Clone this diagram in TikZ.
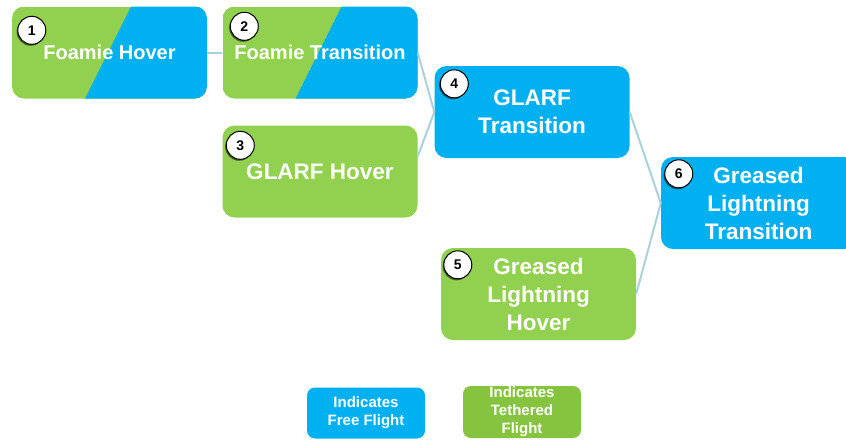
\documentclass[tikz,border=0pt]{standalone}
\usepackage{fontspec}
\setmainfont{Liberation Sans}
\usetikzlibrary{shadows}
\definecolor{freeblue}{HTML}{00B0F0}
\definecolor{tethgreen}{HTML}{92D050}
\definecolor{keygreen}{HTML}{86C440}
\definecolor{linkteal}{HTML}{A9D2DA}
\begin{document}
\begin{tikzpicture}[grow=left,
  edge from parent/.style = {draw=linkteal, line width=2pt},
  edge from parent path = {(\tikzparentnode.west) -- (\tikzchildnode.east)},
  stage/.style = {shape=rectangle, rounded corners=12pt, text=white,
    align=center, minimum width=195pt, minimum height=92pt, inner sep=0pt,
    font=\fontsize{22.5}{28}\selectfont\bfseries},
  free/.style = {stage, fill=freeblue},
  tethered/.style = {stage, fill=tethgreen},
  mixed/.style = {stage, font=\fontsize{20}{24}\selectfont\bfseries,
    path picture={
      \fill[tethgreen, sharp corners] (path picture bounding box.south west) rectangle (path picture bounding box.north east);
      \fill[freeblue, sharp corners] ([xshift=119pt]path picture bounding box.north west) -- (path picture bounding box.north east)
        -- (path picture bounding box.south east) -- ([xshift=73pt]path picture bounding box.south west) -- cycle;}},
  num/.style = {circle, draw, fill=white, line width=1pt, minimum size=28pt, inner sep=0pt,
    font=\fontsize{14}{14}\selectfont\bfseries,
    drop shadow={shadow xshift=-1.2pt, shadow yshift=-1.5pt, fill=black, opacity=0.5}},
  key/.style = {shape=rectangle, rounded corners=8pt, text=white, align=center,
    minimum width=118pt, minimum height=51pt, inner sep=0pt,
    font=\fontsize{15}{18}\selectfont\bfseries}]
    \tikzstyle{level 1}=[level distance=226.5pt, sibling distance=182pt]
    \tikzstyle{level 2}=[level distance=212pt, sibling distance=119pt]
    \tikzstyle{level 3}=[level distance=210.5pt]
  \useasboundingbox (0,0) rectangle (846pt,-440pt);
  \node[free] (n6) at (758.5pt,-203pt) {Greased\\Lightning\\Transition}
    child { node[free] (n4) {GLARF\\Transition}
      child { node[mixed] (n2) {Foamie Transition}
        child { node[mixed] (n1) {Foamie Hover} } }
      child [edge from parent path={(\tikzparentnode.west) -- ([yshift=15pt]\tikzchildnode.east)}]
        { node[tethered] (n3) {GLARF Hover} } }
    child { node[tethered, xshift=6.5pt] (n5) {Greased\\Lightning\\Hover} } ;
  \foreach \k/\dx/\dy in {1/20/24, 2/22/20, 3/18/20, 4/20/18, 5/17/17, 6/18/17}
    \node[num] (c\k) at ([shift={(\dx pt,-\dy pt)}]n\k.north west) {\k};
  \node[key, fill=freeblue] (kfree) at (366pt,-413pt) {Indicates\\Free Flight};
  \node[key, fill=keygreen, minimum height=52pt] (kteth) at (522pt,-412pt) {Indicates\\Tethered\\Flight};
\end{tikzpicture}
\end{document}
